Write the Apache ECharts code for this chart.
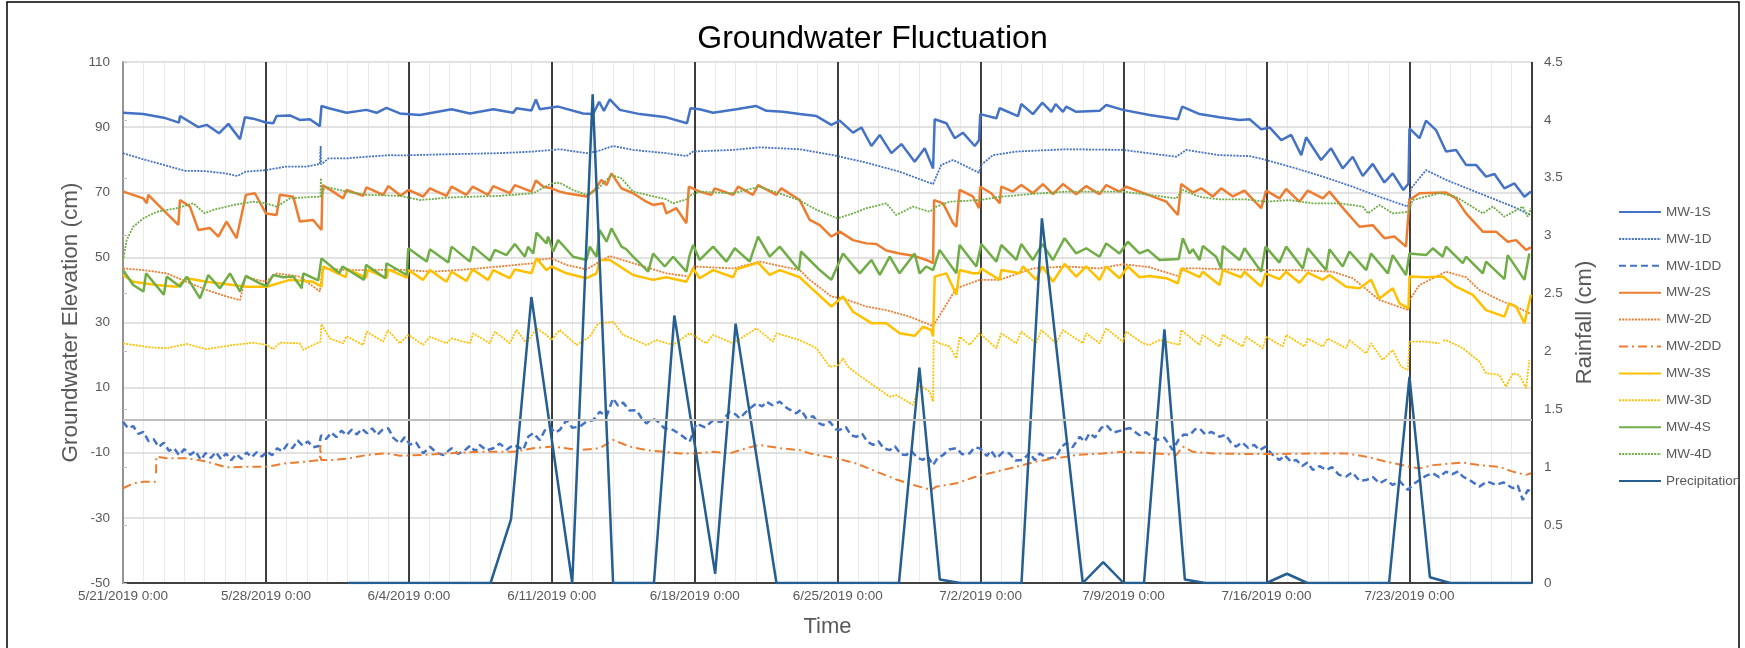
<!DOCTYPE html>
<html>
<head>
<meta charset="utf-8">
<title>Groundwater Fluctuation</title>
<script src="https://cdn.jsdelivr.net/npm/echarts@6/dist/echarts.min.js"></script>
<style>
  html, body {margin:0; padding:0; background:#fff;}
  #chart {width:1745px; height:648px;}
</style>
</head>
<body>
<div id="chart"></div>
<script>
// x = days since 5/21/2019 0:00, y = elevation (cm) / rainfall (cm)
const startDate = Date.UTC(2019, 4, 21);
const seriesNames = ['MW-1S','MW-1D','MW-1DD','MW-2S','MW-2D','MW-2DD','MW-3S','MW-3D','MW-4S','MW-4D','Precipitation'];

const mw1S = [[0,94.4],[0.99,94.0],[2.0,92.9],[2.74,91.4],[2.79,93.4],[3.69,90],[4.1,90.7],[4.7,88.1],[5.16,91],[5.73,86.3],[5.97,93],[6.38,92.6],[7.0,91.4],[7.36,91.2],[7.52,93.4],[8.17,93.6],[8.66,92.2],[9.15,92.4],[9.64,90.3],[9.72,96.5],[10.13,95.7],[10.95,94.4],[11.92,95.3],[12.42,94.4],[12.9,95.9],[13.56,94.2],[14.54,93.7],[16.09,95.5],[16.99,94.2],[18.13,95.5],[19.11,94.4],[19.27,95.8],[20.0,95.1],[20.22,98.5],[20.41,95.5],[21.31,96.3],[22.53,94.2],[23.02,94],[23.32,97.8],[23.55,95],[23.84,98.5],[24.33,95.3],[25.31,94],[26.61,93],[27.62,91.2],[27.79,95.8],[28.24,95.5],[28.9,94.4],[30.04,95.5],[30.99,96.5],[31.51,95],[32.32,94.7],[33.14,94],[33.96,93.4],[34.69,90.7],[35.1,92],[35.75,88.3],[36.16,89.9],[36.65,84.2],[37.06,87.6],[37.63,82],[38.12,84.8],[38.77,79.4],[39.26,83.5],[39.67,77.3],[39.75,92.4],[40.32,91.2],[40.73,86.6],[41.13,88.3],[41.71,84.2],[41.92,86],[41.98,94],[42.77,92.7],[42.93,95.8],[43.83,93.4],[43.99,97.1],[44.56,94],[45.02,97.5],[45.46,94.7],[45.67,97.1],[46.03,94.7],[46.19,96.3],[46.68,94.7],[47.82,95],[48.15,96.8],[48.97,95.3],[50.27,93.7],[51.66,92.4],[51.87,96.3],[52.72,94],[53.7,93],[54.68,92.2],[55.17,92.4],[55.74,89.3],[56.15,89.9],[56.72,86],[57.21,87.6],[57.7,81.4],[57.94,86.9],[58.67,79.9],[59.16,83.5],[59.73,77.3],[60.22,80.9],[60.71,75],[61.2,78.7],[61.77,73],[62.18,75.8],[62.7,70.7],[62.95,72.7],[63.0,89.6],[63.49,86.6],[63.81,92],[64.3,89.1],[64.79,82.5],[65.28,83],[65.77,78.4],[66.26,78.4],[66.75,74.8],[67.16,75.6],[67.65,71.2],[68.14,72.7],[68.63,68.6],[68.95,70.2]];

const mw1D = [[0,82],[1.0,80.1],[2.0,78.4],[3.0,76.6],[4.0,76.5],[5.0,75.8],[5.6,75],[6.0,76.3],[7.0,76.8],[8.0,77.9],[9.0,77.9],[9.64,78.7],[9.68,84.2],[9.7,78.5],[10.06,80.4],[10.95,80.4],[11.94,80.9],[13.08,81.4],[13.56,81.3],[16.09,81.7],[18.45,82],[20.09,82.5],[21.39,83.2],[22.7,82],[23.19,82.5],[24.0,84.2],[24.98,83],[26.61,82],[27.59,81.1],[27.92,82.5],[29.88,83],[31.18,83.8],[33.14,83.2],[34.77,81.4],[36.4,79.1],[38.03,76.3],[39.67,72.5],[40.07,78.4],[40.65,79.9],[41.92,76],[42.03,78.4],[42.6,81.4],[43.75,82.5],[46.19,83.2],[48.97,83],[51.58,80.9],[52.07,83],[53.7,81.4],[55.17,81.1],[55.98,79.9],[57.45,77.3],[58.76,74.8],[60.22,71.7],[61.53,68.6],[62.92,65.6],[63.08,71.2],[63.81,76.8],[64.79,73.8],[66.42,69.7],[68.06,65.6],[68.95,63]];

const mw1DD = [[0,-0.5],[0.25,-2.5],[0.5,-1.8],[0.75,-4.2],[1.0,-3.6],[1.25,-6.4],[1.5,-5.8],[1.75,-8.2],[2.0,-6.9],[2.25,-9.4],[2.5,-8.6],[2.75,-10.8],[3.0,-8.9],[3.3,-10.6],[3.55,-9.4],[3.8,-12.2],[4.05,-10.1],[4.3,-11.6],[4.55,-9.8],[4.8,-12.0],[5.05,-10.2],[5.3,-12.3],[5.55,-10.4],[5.8,-11.9],[6.05,-9.9],[6.3,-11.4],[6.55,-9.8],[6.8,-11.2],[7.05,-9.6],[7.3,-10.8],[7.55,-8.6],[7.8,-9.6],[8.05,-7.4],[8.3,-8.6],[8.55,-6.2],[8.8,-7.8],[9.05,-6.5],[9.3,-8.3],[9.6,-7.9],[9.7,-4.6],[9.95,-5.8],[10.2,-3.8],[10.45,-5.2],[10.7,-3.2],[10.95,-4.6],[11.2,-2.9],[11.45,-4.4],[11.7,-2.6],[11.95,-4.0],[12.2,-2.5],[12.45,-4.5],[12.7,-3.0],[12.99,-2.5],[13.25,-5.5],[13.56,-7.1],[13.8,-5.2],[14.05,-7.5],[14.35,-6.8],[14.7,-10.2],[15.03,-8.1],[15.35,-10.0],[15.68,-10.7],[16.09,-8.6],[16.4,-10.3],[16.66,-9.7],[17.0,-7.8],[17.25,-9.6],[17.47,-7.6],[17.8,-9.3],[18.13,-8.6],[18.45,-7.2],[18.8,-9.0],[19.11,-7.6],[19.35,-8.2],[19.6,-9.2],[19.85,-5.0],[20.09,-4.0],[20.41,-6.1],[20.65,-3.2],[20.9,-2.0],[21.15,-3.8],[21.39,-3.0],[21.72,0],[22.0,-2.3],[22.37,-2.0],[22.7,-0.4],[23.02,0],[23.35,2.6],[23.67,1.1],[24.0,6.7],[24.25,4.4],[24.49,5.4],[24.8,3.0],[25.14,3.1],[25.4,0.6],[25.63,-1.0],[25.9,0.4],[26.12,0],[26.5,-2.4],[26.94,-3.0],[27.3,-4.4],[27.75,-6.6],[28.08,-1.0],[28.5,-2.2],[28.9,0],[29.3,-0.6],[29.71,2.6],[30.0,1.8],[30.2,0.6],[30.6,3.1],[31.02,5.2],[31.3,4.2],[31.51,5.7],[31.8,4.6],[32.16,5.7],[32.5,3.8],[32.97,2.1],[33.2,3.2],[33.47,0.6],[33.8,1.2],[34.05,-0.8],[34.28,-1.5],[34.6,-0.4],[34.9,-2.8],[35.1,-3.0],[35.4,-2.1],[35.65,-4.6],[35.91,-5.1],[36.2,-4.2],[36.45,-6.6],[36.73,-7.6],[37.0,-6.5],[37.25,-8.6],[37.54,-9.2],[37.8,-8.0],[38.1,-10.5],[38.36,-10.7],[38.6,-9.4],[38.9,-11.6],[39.18,-12.2],[39.4,-11.0],[39.67,-13.8],[39.9,-11.5],[40.16,-10.7],[40.45,-9.0],[40.81,-8.6],[41.1,-10.5],[41.46,-10.2],[41.7,-8.4],[41.95,-8.6],[42.3,-11.0],[42.5,-9.3],[42.77,-11.7],[43.1,-9.8],[43.42,-10.2],[43.7,-12.4],[44.07,-12.2],[44.4,-10.0],[44.65,-12.3],[44.89,-10.2],[45.3,-11.8],[45.7,-11.2],[45.95,-8.2],[46.19,-7.1],[46.5,-8.3],[46.85,-5.1],[47.1,-6.6],[47.33,-4.0],[47.6,-5.3],[47.9,-2.4],[48.15,-1.5],[48.5,-3.8],[48.97,-3.0],[49.3,-2.4],[49.78,-4.6],[50.1,-3.7],[50.6,-6.1],[51.0,-5.4],[51.41,-9.2],[51.7,-5.9],[51.95,-4.4],[52.23,-4.6],[52.5,-2.8],[52.72,-2.5],[53.0,-4.4],[53.3,-3.6],[53.7,-5.1],[54.0,-4.5],[54.3,-7.3],[54.52,-8.1],[54.8,-6.8],[55.1,-8.5],[55.4,-7.6],[55.66,-9.2],[55.95,-8.1],[56.25,-10.4],[56.63,-12.2],[56.9,-10.8],[57.2,-12.8],[57.45,-12.2],[57.75,-14.1],[58.0,-13.0],[58.27,-15.3],[58.6,-14.1],[58.92,-15.3],[59.2,-14.4],[59.55,-16.8],[59.9,-17.3],[60.2,-16.0],[60.55,-18.6],[60.88,-18.4],[61.2,-17.4],[61.53,-19.4],[61.85,-18.3],[62.18,-19.9],[62.5,-18.6],[62.92,-21.4],[63.2,-19.6],[63.49,-18.4],[63.8,-17.1],[64.14,-16.3],[64.45,-17.5],[64.79,-15.8],[65.1,-16.6],[65.4,-15.7],[65.61,-17.3],[66.0,-18.6],[66.42,-20.4],[66.8,-18.8],[67.24,-19.9],[67.6,-19.1],[68.06,-20.9],[68.3,-20.0],[68.55,-24.5],[68.8,-21.4],[68.95,-22.4]];

const mw2S = [[0.02,70.2],[1.0,68.1],[1.16,66.6],[1.24,69.2],[1.65,66.6],[2.14,63.5],[2.71,60],[2.79,67.6],[3.28,65.6],[3.69,58.4],[4.26,59],[4.67,56.4],[5.07,61],[5.56,55.9],[6.02,69.2],[6.46,69.7],[7.0,63.5],[7.52,63],[7.68,69.2],[8.34,68.6],[8.66,61],[9.31,61.5],[9.72,58.4],[9.77,72.2],[10.29,70.2],[10.78,68.1],[10.95,70.7],[11.76,68.9],[11.92,71.5],[12.74,69.2],[12.99,71.9],[13.6,68.9],[13.97,70.7],[14.7,68.7],[15.03,71.2],[15.84,68.9],[16.09,71.7],[16.82,69.2],[17.12,71.7],[17.88,69.2],[18.13,71.9],[18.94,69.7],[19.19,72.2],[20.0,70.2],[20.22,73.6],[20.58,71.7],[20.98,71.2],[21.39,70.2],[21.72,69.7],[22.7,68.7],[23.1,70.7],[23.43,73.8],[23.68,72.2],[23.92,75.8],[24.41,71.2],[24.98,69.7],[25.63,67.1],[25.96,66.1],[26.45,66.6],[26.61,63.5],[27.1,65.1],[27.59,60.5],[27.71,71.7],[28.24,70.2],[28.81,69.2],[28.98,71.2],[29.88,69.2],[30.12,71.7],[30.85,69.2],[31.1,72.2],[32.0,69.2],[32.24,71.2],[33.14,67.6],[33.63,61.5],[34.12,59.9],[34.69,56.4],[35.1,57.9],[35.75,55.3],[36.4,54.3],[36.89,54.1],[37.38,52.1],[38.03,51.2],[38.77,50.4],[39.34,49.2],[39.67,48.2],[39.72,67.6],[40.16,66.6],[40.65,60.5],[40.81,59.4],[40.97,70.7],[41.62,68.7],[41.92,65.1],[41.98,71.7],[42.52,69.7],[42.93,66.6],[43.01,71.7],[43.58,70.2],[43.99,72.2],[44.56,69.7],[45.05,72.5],[45.54,69.4],[46.03,72.5],[46.68,69.4],[47.17,71.9],[47.82,69.4],[48.15,72.2],[48.8,70.2],[49.13,71.7],[50.11,69.4],[51.09,67.1],[51.66,63],[51.82,72.5],[52.39,69.9],[52.8,71.2],[53.37,68.7],[53.78,71.2],[54.35,68.7],[54.92,70.5],[55.74,65.1],[55.98,70.5],[56.63,68.1],[56.96,71],[57.61,67.1],[58.02,70.5],[58.76,68.1],[59.08,70.2],[59.82,64.6],[60.55,59.4],[61.2,59.9],[61.77,55.9],[62.26,56.4],[62.83,53.3],[63.0,67.6],[63.49,69.7],[64.79,69.9],[65.28,68.1],[65.77,63.5],[66.59,57.9],[67.24,57.9],[67.81,54.8],[68.22,55.3],[68.71,52.3],[68.95,53.1]];

const mw2D = [[0,46.6],[1.0,46.1],[2.14,45.1],[3.12,42.5],[4.09,40],[5.07,38],[5.73,36.9],[5.99,43.9],[7.0,42.5],[7.52,45.1],[8.66,44.1],[9.64,39.5],[9.77,46.6],[10.95,46.1],[11.93,46.1],[13.56,46.2],[15.19,45.6],[16.82,46.3],[18.45,47.2],[20.09,48.2],[20.25,49.2],[20.98,49.7],[21.72,47.7],[22.7,46.3],[23.35,48.7],[23.84,50.4],[24.98,48.2],[26.61,45.1],[27.75,44.1],[27.92,47.2],[29.88,46.6],[31.18,48.7],[33.14,46.1],[33.63,43.1],[34.69,38],[35.26,37.4],[36.4,34.9],[37.38,33.8],[38.52,31.8],[39.67,28.9],[39.75,29.5],[40.81,40.5],[41.95,43.1],[42.93,43.1],[44.56,46.6],[46.19,47.2],[47.82,46.6],[48.97,47.9],[50.27,47],[51.74,44.1],[51.9,46.6],[52.72,46.6],[54.19,46.3],[55.95,46.1],[57.45,46.1],[59.25,45.6],[60.22,43.6],[61.53,36.9],[62.95,33.8],[63.0,36.9],[63.49,41.5],[64.79,45.6],[65.77,43.9],[66.42,40],[67.4,36.9],[68.38,34.4],[68.95,32.6]];

const mw2DD = [[0,-20.9],[0.5,-19.4],[1.0,-18.9],[1.6,-18.9],[1.61,'-'],[1.62,-16.3],[1.63,-11.2],[2.14,-11.7],[3.12,-11.7],[4.09,-12.7],[5.07,-14.5],[6.05,-14.3],[7.03,-14.3],[8.01,-13.2],[8.99,-12.7],[9.64,-12.2],[9.67,-7.6],[9.7,-12.2],[10.29,-12.2],[11.11,-11.7],[11.93,-10.7],[12.9,-10.2],[13.56,-10.9],[14.7,-10.7],[15.84,-10.2],[17.47,-9.7],[19.11,-9.7],[20.09,-8.6],[21.06,-8.1],[22.37,-9.2],[23.35,-8.6],[24.0,-6.1],[24.82,-8.1],[25.63,-9.2],[27.26,-10.2],[27.92,-10.2],[28.9,-9.7],[29.71,-10.2],[30.53,-8.6],[31.18,-7.6],[32.16,-8.6],[33.14,-9.2],[33.63,-10.2],[34.93,-11.7],[35.91,-13.3],[36.89,-15.8],[37.87,-18.2],[38.69,-19.9],[39.58,-21.4],[39.83,-20.4],[40.81,-19.4],[41.79,-17.3],[42.77,-15.8],[43.74,-14.3],[44.72,-12.7],[45.7,-11.7],[46.68,-10.7],[47.99,-10.2],[48.97,-9.7],[50.6,-10.2],[51.58,-10.7],[51.9,-8.1],[52.39,-9.7],[53.37,-10.2],[55.0,-10.4],[56.63,-10.4],[58.27,-10.2],[59.9,-10.2],[60.88,-11.2],[61.85,-12.7],[63.0,-14.3],[63.49,-14.8],[64.14,-13.8],[65.61,-13],[66.42,-13.8],[67.4,-14.3],[68.06,-15.8],[68.71,-16.8],[68.95,-16.3]];

const mw3S = [[0,44.6],[0.5,42.5],[1.65,41.5],[2.63,41],[3.12,43.6],[4.09,42.5],[5.4,41.5],[6.02,41],[7.03,41],[8.17,43.1],[9.31,42.5],[9.72,41],[9.8,47.2],[10.9,43.9],[11.0,46.4],[11.9,43.8],[12.0,46.2],[12.9,43.6],[13.0,46.3],[13.9,43.8],[13.97,46.1],[14.7,43.1],[15.03,46.1],[15.84,42.5],[16.09,45.6],[16.82,42.8],[17.12,46.3],[17.88,43.1],[18.13,46.1],[18.94,43.6],[19.19,46.3],[20.0,45.1],[20.25,49.7],[20.74,46.1],[20.98,47.2],[21.72,45.1],[22.7,43.6],[23.19,45.1],[23.35,49.2],[23.84,49.2],[24.98,44.6],[25.96,43.1],[26.61,43.9],[27.59,42.5],[27.92,46.6],[28.24,43.6],[28.9,46.1],[29.88,43.9],[30.04,46.3],[31.1,48.4],[31.67,44.6],[32.16,46.1],[33.14,43.9],[33.63,41],[34.69,34.9],[35.26,38],[35.75,33.3],[36.65,29.8],[37.38,29.8],[38.03,26.7],[38.77,25.9],[39.18,28.7],[39.58,27.7],[39.67,25.7],[39.75,44.1],[40.32,45.1],[40.81,38.5],[40.97,46.1],[41.62,45.1],[41.92,45.1],[42.03,46.6],[42.93,43.1],[43.01,46.1],[43.91,45.1],[44.07,47.2],[44.72,43.1],[45.02,47.2],[45.54,42.5],[46.11,48],[46.68,44.1],[47.17,47.2],[47.82,43.1],[48.15,47.2],[48.8,43.6],[49.21,47.2],[49.78,43.9],[50.27,44.3],[51.09,43.6],[51.66,42],[51.82,46.6],[52.72,43.9],[52.88,45.6],[53.7,41.5],[53.86,46.1],[54.76,43.9],[54.92,45.6],[55.74,41],[55.95,45.1],[56.63,43.3],[56.96,45.6],[57.61,42.2],[58.02,45.3],[58.76,43.1],[59.08,44.6],[59.9,41],[60.55,40.5],[61.12,43.1],[61.53,37.4],[62.18,40.5],[62.51,35.9],[62.95,34.4],[63.0,44.1],[63.81,43.9],[64.63,44.1],[65.28,41],[66.1,38.5],[66.75,33.8],[67.65,31.8],[67.89,35.9],[68.22,34.9],[68.63,29.8],[68.95,38.5]];

const mw3D = [[0,23.6],[1.3,22.4],[2.14,22.1],[3.12,23.4],[4.09,21.8],[5.4,23.1],[6.38,23.8],[7.03,23.1],[7.36,21.8],[7.68,23.8],[8.66,23.6],[8.83,21.6],[9.31,23.1],[9.67,24.1],[9.72,29.5],[10.13,25.1],[10.78,23.6],[10.95,25.8],[11.76,23.1],[11.93,27.2],[12.74,24.1],[12.97,27.7],[13.56,23.6],[13.97,26.2],[14.7,23.1],[15.03,25.6],[15.84,23.6],[16.09,25.1],[16.99,23.6],[17.15,26.7],[17.96,23.6],[18.21,27.2],[18.94,23.6],[19.27,27.7],[19.76,23.6],[20.25,28.2],[20.74,26.2],[20.98,24.6],[21.39,27.7],[22.21,23.1],[22.86,25.6],[23.27,29.7],[24.0,30.2],[24.49,26.2],[25.63,23.1],[26.12,24.6],[26.94,23.1],[27.75,26.7],[28.57,23.6],[28.9,26.2],[29.87,23.6],[31.02,28.2],[31.83,24.1],[32.0,26.7],[33.14,24.6],[33.96,22.1],[34.61,16.4],[35.02,16.9],[35.26,19],[35.5,16.4],[35.91,14.4],[36.73,10.8],[37.54,7.2],[37.87,7.7],[38.69,4.7],[39.01,10.8],[39.5,8.8],[39.67,5.7],[39.7,24.6],[40.0,23.6],[40.48,22.6],[40.81,19],[40.97,25.6],[41.46,23.1],[41.95,26.7],[42.77,22.1],[43.01,26.7],[43.74,23.6],[43.99,27.2],[44.72,23.6],[44.97,27.7],[45.7,23.6],[46.03,27.7],[47.01,23.6],[47.17,26.7],[47.82,23.6],[48.15,28.2],[48.97,24.1],[49.13,27.2],[49.94,23.6],[50.27,23.1],[50.76,24.6],[51.74,23.1],[51.82,27.7],[52.72,23.1],[52.88,26.2],[53.7,22.6],[53.86,26.2],[54.84,22.6],[55.0,25.6],[55.82,22.1],[55.98,25.6],[56.8,22.6],[56.96,26.2],[57.86,22.6],[58.02,25.1],[58.76,22.6],[59.0,25.1],[59.9,22.1],[60.06,24.6],[60.88,20.5],[61.12,23.6],[61.69,18.5],[62.18,21.5],[62.59,16.4],[62.92,15.4],[63.0,24.1],[63.81,24.1],[64.47,23.6],[64.55,'-'],[64.65,24.4],[64.79,24.6],[65.61,22.1],[66.42,18],[66.75,14.4],[67.4,13.9],[67.73,10.3],[68.06,14.4],[68.38,13.9],[68.71,9.8],[68.87,18.5]];

const mw4S = [[0,46.1],[0.5,41.5],[1.0,39.5],[1.13,45.1],[2.0,38.5],[2.14,44.1],[2.79,41],[3.12,44.1],[3.77,37.4],[4.18,44.6],[4.75,40.5],[5.24,45.1],[5.73,39.5],[6.02,44.3],[6.7,42],[7.03,41.2],[7.36,44.6],[7.85,43.9],[8.34,44.1],[8.75,40.5],[8.83,45.1],[9.56,42.9],[9.72,49.7],[10.6,45.1],[10.75,47.2],[11.8,43.1],[11.9,47.7],[12.85,43.6],[12.9,48.2],[13.89,44.6],[13.97,52.8],[14.87,48.7],[15.03,52.5],[15.93,48.4],[16.09,53.3],[16.99,48.7],[17.15,53.3],[17.97,49],[18.21,52.3],[18.78,50.7],[19.19,54.1],[19.68,50.2],[19.84,53.3],[20.09,51.2],[20.25,57.6],[20.74,54.3],[20.82,56.4],[21.07,51.8],[21.31,55.3],[21.72,52.5],[22.04,50.2],[22.7,49.2],[22.86,53.3],[23.19,50.2],[23.35,58.4],[23.68,54.8],[23.92,58.9],[24.41,53.3],[24.65,52.5],[24.98,50.2],[25.72,45.6],[25.96,51.2],[26.53,47.2],[26.94,50.2],[27.59,45.6],[27.75,50.7],[27.92,53.8],[28.24,49.2],[28.9,53.3],[29.55,48.7],[29.96,52.8],[30.69,48.7],[31.1,56.4],[31.67,50.2],[32.16,53.3],[33.1,46.1],[33.2,51.8],[34.12,46.1],[34.69,43.1],[35.26,51.2],[36.08,45.1],[36.65,49.2],[37.06,44.6],[37.55,50.2],[38.03,45.1],[38.77,51.2],[39.01,45.1],[39.34,47.2],[39.67,46.1],[39.99,52.3],[40.81,45.1],[40.97,53.8],[41.79,47.2],[42.03,54.1],[42.77,48.7],[43.01,53.8],[43.75,49.2],[43.99,54.1],[44.56,49.2],[45.02,54.1],[45.54,49.2],[46.11,55.9],[46.68,51.2],[47.17,52.8],[47.82,50.2],[48.15,54.3],[48.8,51.2],[49.21,54.8],[49.78,51.2],[50.19,52.3],[50.76,49.2],[51.7,49.5],[51.9,55.9],[52.23,51.2],[52.39,52.5],[52.72,49.2],[52.88,53.5],[53.53,50.2],[53.78,46.6],[53.86,53.5],[54.68,49.2],[54.92,52.8],[55.74,45.6],[55.95,53.3],[56.63,48.4],[56.96,53.3],[57.78,46.6],[58.02,52.8],[58.92,46.1],[59.08,52.5],[59.73,47.2],[60.06,51.8],[60.88,46.1],[61.12,51.2],[61.94,45.1],[62.18,50.7],[62.83,44.6],[63.0,51.2],[63.81,50.7],[64.14,52.8],[64.63,50.2],[64.79,53.3],[65.61,48.2],[65.77,50.2],[66.59,45.1],[66.75,48.7],[67.65,43.3],[67.81,50.7],[68.63,43.1],[68.87,51.2]];

const mw4D = [[0,49],[0.18,55.3],[0.5,59.4],[1.0,62],[1.65,64],[2.63,65.1],[3.44,66.6],[4.0,63.5],[4.42,64.6],[5.4,66.1],[6.38,67.1],[7.0,66.6],[7.52,65.6],[8.17,68.1],[9.31,68.6],[9.67,68.6],[9.69,74.3],[9.72,69],[9.89,71.7],[10.95,70.2],[11.92,69.2],[13.56,68.9],[14.54,67.6],[16.01,68.4],[18.45,68.9],[20.09,69.7],[20.98,72.7],[21.39,72.9],[22.04,70.7],[22.7,69.2],[23.19,70.7],[23.92,75.3],[24.41,74.3],[24.98,70.2],[26.61,67.8],[26.94,66.6],[27.59,67.8],[27.84,69.2],[28.24,70.2],[29.88,69.7],[31.18,71.7],[33.14,67.5],[33.96,64.6],[34.98,62],[35.75,63.5],[36.4,65.1],[37.38,66.6],[37.87,63],[38.69,65.6],[39.5,64],[39.83,65.6],[40.48,67.1],[41.95,67.6],[42.93,68.6],[44.56,69.5],[46.19,70.2],[47.82,70.2],[48.97,70.2],[50.27,69.2],[51.58,68.1],[51.9,70.7],[52.72,68.6],[53.7,67.8],[55.0,67.8],[55.98,67.1],[57.12,67.6],[58.27,66.6],[59.57,66.6],[60.71,65.6],[60.96,63.5],[61.53,66.1],[62.18,63.5],[62.95,64],[63.16,67.6],[64.47,69.7],[65.28,68.6],[66.59,63.5],[67.08,65.6],[67.65,62.5],[68.55,65.6],[68.79,62.5],[68.95,65.1]];

const precipitation = [[11,0],[18,0],[19,0.55],[20,2.47],[22,0],[23,4.22],[24,0],[26,0],[27,2.31],[29,0.08],[30,2.24],[32,0],[38,0],[39,1.86],[40,0.03],[41,0],[44,0],[45,3.15],[47,0],[48,0.18],[49,0],[50,0],[51,2.19],[52,0.03],[53,0],[56,0],[57,0.08],[58,0],[62,0],[63,1.78],[64,0.05],[65,0],[69,0]];

const BLUE = '#4472C4', ORANGE = '#ED7D31', YELLOW = '#FFC000', GREEN = '#70AD47', DARKBLUE = '#255E91';
const FONT = '"Liberation Sans", Arial, sans-serif';
const DOTS = [2, 1.2];

function dayLabel(v) {
    let d = new Date(startDate + v * 86400000);
    return (d.getUTCMonth() + 1) + '/' + d.getUTCDate() + '/' + d.getUTCFullYear() + ' 0:00';
}

function line(name, data, color, type, width, yAxisIndex) {
    return {
        name: name,
        type: 'line',
        data: data,
        xAxisIndex: 0,
        yAxisIndex: yAxisIndex || 0,
        symbol: 'none',
        smooth: false,
        connectNulls: false,
        silent: true,
        lineStyle: {color: color, type: type, width: width},
        itemStyle: {color: color}
    };
}

let series = [
    line(seriesNames[0], mw1S, BLUE, 'solid', 2.5),
    line(seriesNames[1], mw1D, BLUE, DOTS, 1.8),
    line(seriesNames[2], mw1DD, BLUE, [7, 4], 2.5),
    line(seriesNames[3], mw2S, ORANGE, 'solid', 2.5),
    line(seriesNames[4], mw2D, ORANGE, DOTS, 1.8),
    line(seriesNames[5], mw2DD, ORANGE, [9, 4, 2, 4], 2),
    line(seriesNames[6], mw3S, YELLOW, 'solid', 2.5),
    line(seriesNames[7], mw3D, YELLOW, DOTS, 1.8),
    line(seriesNames[8], mw4S, GREEN, 'solid', 2.5),
    line(seriesNames[9], mw4D, GREEN, DOTS, 1.8),
    line(seriesNames[10], precipitation, DARKBLUE, 'solid', 2.5, 1)
];
// the grey line at 0 cm
series[0].markLine = {
    silent: true, symbol: ['none', 'none'], animation: false,
    label: {show: false},
    lineStyle: {color: '#BFBFBF', width: 2, type: 'solid'},
    data: [{yAxis: 0}]
};

let chart = echarts.init(document.getElementById('chart'), null, {renderer: 'canvas'});
chart.setOption({
    animation: false,
    backgroundColor: '#fff',
    textStyle: {fontFamily: FONT},
    title: {
        text: 'Groundwater Fluctuation',
        left: 'center',
        top: 18,
        textStyle: {fontSize: 32, fontWeight: 'normal', color: '#000', fontFamily: FONT}
    },
    graphic: [{
        type: 'rect', silent: true,
        shape: {x: 7, y: 2, width: 1732, height: 700},
        style: {fill: null, stroke: '#000', lineWidth: 1.5}
    }],
    legend: {
        orient: 'vertical',
        left: 1613,
        top: 200,
        itemWidth: 42,
        itemHeight: 14,
        itemGap: 12.9,
        data: seriesNames,
        itemStyle: {opacity: 0},
        textStyle: {fontSize: 13.5, color: '#595959', fontFamily: FONT}
    },
    grid: {left: 123, right: 213, top: 62, bottom: 65, containLabel: false, outerBoundsMode: 'none'},
    xAxis: [{
        type: 'value', min: 0, max: 69, interval: 7, z: 2,
        axisLine: {lineStyle: {color: '#262626', width: 2}},
        axisTick: {show: false},
        axisLabel: {formatter: dayLabel, color: '#595959', fontSize: 13.5, margin: 6, showMaxLabel: false},
        splitLine: {show: true, lineStyle: {color: '#000', width: 1.5}},
        name: 'Time', nameLocation: 'middle', nameGap: 33,
        nameTextStyle: {fontSize: 22, color: '#595959'}
    }, {
        type: 'value', min: 0, max: 69, position: 'top', z: 2,
        axisLine: {show: true, lineStyle: {color: '#404040', width: 2}},
        axisTick: {show: false}, axisLabel: {show: false}, splitLine: {show: false}
    }, {
        type: 'value', min: 0, max: 69, interval: 1, z: 0,
        axisLine: {show: false}, axisTick: {show: false}, axisLabel: {show: false},
        splitLine: {show: true, lineStyle: {color: '#EBEBEB', width: 1}}
    }],
    yAxis: [{
        type: 'value', min: -50, max: 110, interval: 20, z: 1,
        axisLine: {show: true, lineStyle: {color: '#262626', width: 1.5}},
        axisTick: {show: false},
        axisLabel: {color: '#595959', fontSize: 13.5, margin: 13},
        splitLine: {lineStyle: {color: '#D9D9D9', width: 1.5}},
        name: 'Groundwater Elevation (cm)', nameLocation: 'middle', nameGap: 41,
        nameMoveOverlap: false,
        nameTextStyle: {fontSize: 22.5, color: '#595959'}
    }, {
        type: 'value', min: 0, max: 4.5, interval: 0.5, position: 'right', z: 3,
        axisLine: {show: true, lineStyle: {color: '#BFBFBF', width: 1.5}},
        axisTick: {show: true, length: 4, lineStyle: {color: '#BFBFBF'}},
        axisLabel: {color: '#595959', fontSize: 13.5, margin: 12},
        splitLine: {show: false},
        name: 'Rainfall (cm)', nameLocation: 'middle', nameGap: 39,
        nameTextStyle: {fontSize: 22, color: '#595959'}
    }],
    series: series
});
</script>
</body>
</html>
